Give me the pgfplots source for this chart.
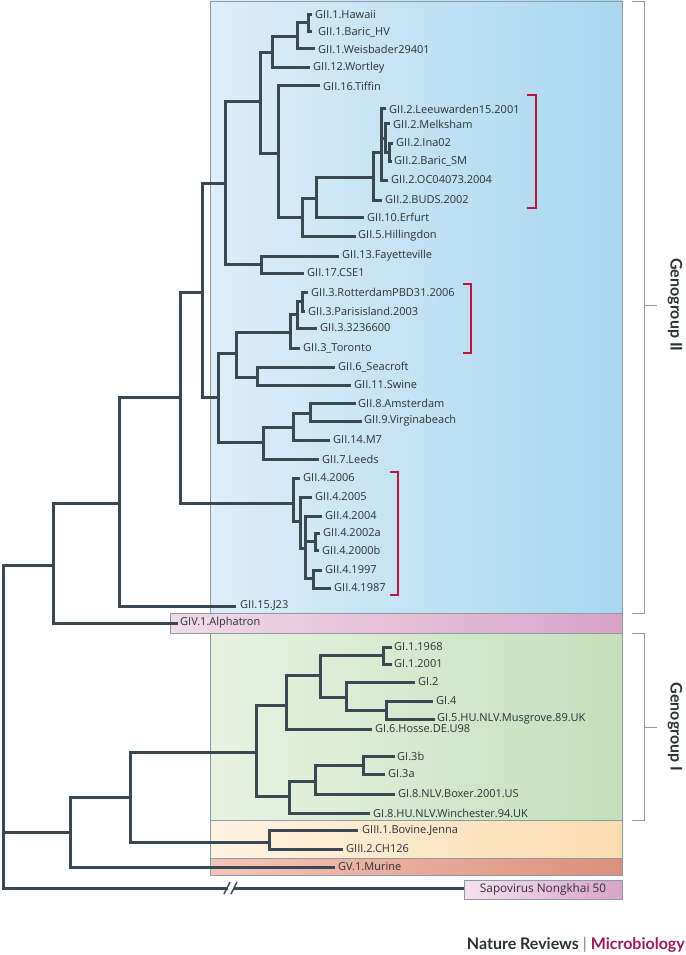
\documentclass[border=0pt]{standalone}
\usepackage{pgfplots}
\pgfplotsset{compat=1.18}
\usepackage{fontspec}
\setmainfont{Open Sans}
\newfontfamily\titlefont{Lato}
\definecolor{treec}{HTML}{3A4852}
\definecolor{txt}{HTML}{2A3238}
\definecolor{brk}{HTML}{B5173F}
\definecolor{boxline}{HTML}{8C9AA4}
\definecolor{blueL}{HTML}{DDEEF8}\definecolor{blueR}{HTML}{A9D7EF}
\definecolor{pinkL}{HTML}{F2DBE8}\definecolor{pinkR}{HTML}{D9A3C8}
\definecolor{greenL}{HTML}{E8F2E2}\definecolor{greenR}{HTML}{C4E0BA}
\definecolor{orangeL}{HTML}{FFF3E2}\definecolor{orangeR}{HTML}{FADCB0}
\definecolor{redL}{HTML}{F4C6B8}\definecolor{redR}{HTML}{DC907C}
\definecolor{sapL}{HTML}{F6E1EE}\definecolor{sapR}{HTML}{D9A3C9}
\definecolor{micro}{HTML}{9B1B5A}
\tikzset{
  tree/.style={color=treec, line width=3pt, line join=miter},
  box/.style={draw=boxline, line width=0.8pt},
  lab/.style={anchor=west, text=txt, font=\fontsize{11}{12.5}\selectfont, inner sep=0pt},
  redb/.style={color=brk, line width=2.2pt},
  grayb/.style={color=gray!80, line width=0.9pt},
}
\begin{document}
\begin{tikzpicture}
\begin{axis}[
  scale only axis, width=685pt, height=955pt,
  xmin=0, xmax=685, ymin=0, ymax=955, y dir=reverse,
  hide axis, clip=false, every axis plot/.append style={no marks},
]
% background
\addplot[draw=none, fill=white] coordinates {(0,0) (685,0) (685,955) (0,955)} -- cycle;
% boxes
\addplot[box, left color=blueL, right color=blueR] coordinates {(210,1) (622,1) (622,613) (210,613)} -- cycle;
\addplot[box, left color=pinkL, right color=pinkR] coordinates {(170,613) (622,613) (622,633) (170,633)} -- cycle;
\addplot[box, left color=greenL, right color=greenR] coordinates {(210,633) (622,633) (622,820) (210,820)} -- cycle;
\addplot[box, left color=orangeL, right color=orangeR] coordinates {(210,820) (622,820) (622,858) (210,858)} -- cycle;
\addplot[box, left color=redL, right color=redR] coordinates {(210,858) (622,858) (622,875) (210,875)} -- cycle;
\addplot[box, left color=sapL, right color=sapR] coordinates {(464,880) (622,880) (622,899) (464,899)} -- cycle;
% tree: genogroup II
\addplot[tree] coordinates {(312,15) (308,15) (308,32) (312,32)};
\addplot[tree] coordinates {(308,23) (297,23) (297,49) (315,49)};
\addplot[tree] coordinates {(297,37) (272,37) (272,68) (310,68)};
\addplot[tree] coordinates {(272,53) (260,53) (260,153) (278,153)};
\addplot[tree] coordinates {(320,86) (278,86) (278,217) (302,217)};
\addplot[tree] coordinates {(316,198) (302,198) (302,236) (356,236)};
\addplot[tree] coordinates {(373,177) (316,177) (316,217) (364,217)};
\addplot[tree] coordinates {(381,152) (373,152) (373,200) (382,200)};
\addplot[tree] coordinates {(386,109) (381,109) (381,180) (388,180)};
\addplot[tree] coordinates {(381,138) (385,138)};
\addplot[tree] coordinates {(390,124) (385,124) (385,152) (389,152)};
\addplot[tree] coordinates {(393,143) (389,143) (389,161) (392,161)};
\addplot[tree] coordinates {(260,102) (225,102) (225,264) (261,264)};
\addplot[tree] coordinates {(339,256) (261,256) (261,273) (304,273)};
\addplot[tree] coordinates {(225,183) (202,183) (202,397) (218,397)};
\addplot[tree] coordinates {(202,292) (180,292) (180,503) (293,503)};
\addplot[tree] coordinates {(236,353) (218,353) (218,442) (263,442)};
\addplot[tree] coordinates {(290,332) (236,332) (236,377) (257,377)};
\addplot[tree] coordinates {(297,314) (290,314) (290,348) (300,348)};
\addplot[tree] coordinates {(302,301) (297,301) (297,328) (317,328)};
\addplot[tree] coordinates {(308,292) (302,292) (302,311) (305,311)};
\addplot[tree] coordinates {(335,367) (257,367) (257,385) (351,385)};
\addplot[tree] coordinates {(293,427) (263,427) (263,459) (319,459)};
\addplot[tree] coordinates {(310,413) (293,413) (293,440) (330,440)};
\addplot[tree] coordinates {(356,403) (310,403) (310,421) (362,421)};
% GII.4
\addplot[tree] coordinates {(300,478) (293,478) (293,521) (300,521)};
\addplot[tree] coordinates {(312,497) (300,497) (300,548) (305,548)};
\addplot[tree] coordinates {(322,516) (305,516) (305,578) (313,578)};
\addplot[tree] coordinates {(305,541) (315,541)};
\addplot[tree] coordinates {(320,533) (315,533) (315,550) (319,550)};
\addplot[tree] coordinates {(322,570) (313,570) (313,588) (331,588)};
% deep nodes
\addplot[tree] coordinates {(180,397) (119,397) (119,606) (236,606)};
\addplot[tree] coordinates {(119,503) (53,503) (53,623) (178,623)};
\addplot[tree] coordinates {(53,565) (3,565) (3,888) (464,888)};
\addplot[tree] coordinates {(3,832) (70,832)};
\addplot[tree] coordinates {(130,797) (70,797) (70,867) (335,867)};
\addplot[tree] coordinates {(256,752) (130,752) (130,842) (269,842)};
\addplot[tree] coordinates {(358,830) (269,830) (269,849) (343,849)};
% genogroup I
\addplot[tree] coordinates {(286,705) (256,705) (256,796) (289,796)};
\addplot[tree] coordinates {(320,675) (286,675) (286,729) (372,729)};
\addplot[tree] coordinates {(383,655) (320,655) (320,697) (346,697)};
\addplot[tree] coordinates {(392,647) (383,647) (383,664) (392,664)};
\addplot[tree] coordinates {(415,682) (346,682) (346,710) (386,710)};
\addplot[tree] coordinates {(433,701) (386,701) (386,719) (435,719)};
\addplot[tree] coordinates {(315,781) (289,781) (289,813) (370,813)};
\addplot[tree] coordinates {(363,765) (315,765) (315,794) (395,794)};
\addplot[tree] coordinates {(395,756) (363,756) (363,774) (385,774)};
% break marks
\addplot[draw=white, line width=3.8pt] coordinates {(228,888) (234,888)};
\addplot[color=treec, line width=1.4pt] coordinates {(224,894) (230,882)};
\addplot[color=treec, line width=1.4pt] coordinates {(231,894) (237,882)};
% red brackets
\addplot[redb] coordinates {(527,95) (536,95) (536,208) (527,208)};
\addplot[redb] coordinates {(463,284) (471,284) (471,353) (463,353)};
\addplot[redb] coordinates {(390,472) (398,472) (398,595) (390,595)};
% genogroup brackets
\addplot[grayb] coordinates {(632,1) (644,1) (644,613) (632,613)};
\addplot[grayb] coordinates {(644,305) (657,305)};
\addplot[grayb] coordinates {(632,633) (644,633) (644,820) (632,820)};
\addplot[grayb] coordinates {(644,727) (657,727)};
% labels
\node[lab] at (axis cs:315,15) {GII.1.Hawaii};
\node[lab] at (axis cs:318,32) {GII.1.Baric\_HV};
\node[lab] at (axis cs:318,49) {GII.1.Weisbader29401};
\node[lab] at (axis cs:313,68) {GII.12.Wortley};
\node[lab] at (axis cs:323,86) {GII.16.Tiffin};
\node[lab] at (axis cs:389,109) {GII.2.Leeuwarden15.2001};
\node[lab] at (axis cs:393,124) {GII.2.Melksham};
\node[lab] at (axis cs:396,143) {GII.2.Ina02};
\node[lab] at (axis cs:394,161) {GII.2.Baric\_SM};
\node[lab] at (axis cs:391,180) {GII.2.OC04073.2004};
\node[lab] at (axis cs:385,200) {GII.2.BUDS.2002};
\node[lab] at (axis cs:367,217) {GII.10.Erfurt};
\node[lab] at (axis cs:358,236) {GII.5.Hillingdon};
\node[lab] at (axis cs:342,256) {GII.13.Fayetteville};
\node[lab] at (axis cs:307,273) {GII.17.CSE1};
\node[lab] at (axis cs:311,292) {GII.3.RotterdamPBD31.2006};
\node[lab] at (axis cs:308,311) {GII.3.Parisisland.2003};
\node[lab] at (axis cs:320,328) {GII.3.3236600};
\node[lab] at (axis cs:303,348) {GII.3\_Toronto};
\node[lab] at (axis cs:338,367) {GII.6\_Seacroft};
\node[lab] at (axis cs:354,385) {GII.11.Swine};
\node[lab] at (axis cs:358,403) {GII.8.Amsterdam};
\node[lab] at (axis cs:364,421) {GII.9.Virginabeach};
\node[lab] at (axis cs:333,440) {GII.14.M7};
\node[lab] at (axis cs:322,459) {GII.7.Leeds};
\node[lab] at (axis cs:303,478) {GII.4.2006};
\node[lab] at (axis cs:315,497) {GII.4.2005};
\node[lab] at (axis cs:325,516) {GII.4.2004};
\node[lab] at (axis cs:323,533) {GII.4.2002a};
\node[lab] at (axis cs:322,550) {GII.4.2000b};
\node[lab] at (axis cs:325,570) {GII.4.1997};
\node[lab] at (axis cs:334,588) {GII.4.1987};
\node[lab] at (axis cs:240,606) {GII.15.J23};
\node[lab] at (axis cs:180,623) {GIV.1.Alphatron};
\node[lab] at (axis cs:394,647) {GI.1.1968};
\node[lab] at (axis cs:394,664) {GI.1.2001};
\node[lab] at (axis cs:418,682) {GI.2};
\node[lab] at (axis cs:436,701) {GI.4};
\node[lab] at (axis cs:437,719) {GI.5.HU.NLV.Musgrove.89.UK};
\node[lab] at (axis cs:375,729) {GI.6.Hosse.DE.U98};
\node[lab] at (axis cs:397,756) {GI.3b};
\node[lab] at (axis cs:388,774) {GI.3a};
\node[lab] at (axis cs:398,794) {GI.8.NLV.Boxer.2001.US};
\node[lab] at (axis cs:373,813) {GI.8.HU.NLV.Winchester.94.UK};
\node[lab] at (axis cs:362,830) {GIII.1.Bovine.Jenna};
\node[lab] at (axis cs:346,849) {GIII.2.CH126};
\node[lab] at (axis cs:338,867) {GV.1.Murine};
\node[lab, anchor=center, font=\fontsize{11.8}{13}\selectfont] at (axis cs:543,889) {Sapovirus Nongkhai 50};
\node[rotate=-90, text=txt, font=\titlefont\fontsize{16}{18}\selectfont\bfseries] at (axis cs:675,305) {Genogroup II};
\node[rotate=-90, text=txt, font=\titlefont\fontsize{16}{18}\selectfont\bfseries] at (axis cs:675,727) {Genogroup I};
\node[anchor=east, inner sep=0pt, font=\titlefont\fontsize{16}{18}\selectfont\bfseries] at (axis cs:685,945) {\textcolor{txt}{Nature Reviews} \textcolor{gray}{\textmd{|}} \textcolor{micro}{Microbiology}};
\end{axis}
\end{tikzpicture}
\end{document}
